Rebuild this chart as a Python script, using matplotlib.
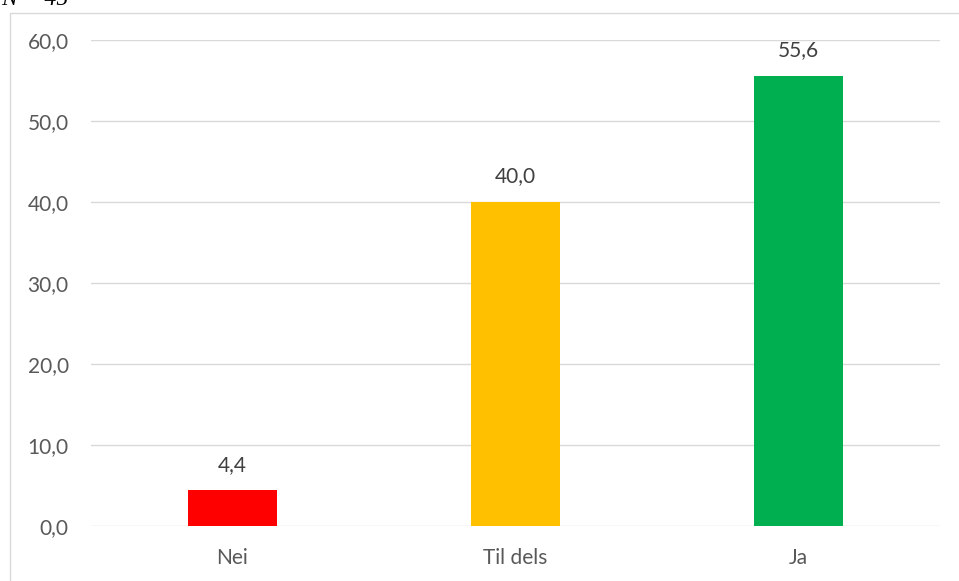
import matplotlib.pyplot as plt
from matplotlib.patches import Rectangle

categories = ["Nei", "Til dels", "Ja"]
values = [4.4, 40.0, 55.6]
colors = ["#FF0000", "#FFC000", "#00B050"]
yticks = [0, 10, 20, 30, 40, 50, 60]

W, H = 959, 581
fig = plt.figure(figsize=(W / 100, H / 100), dpi=100)
plt.rcParams['font.family'] = ['Lato', 'DejaVu Sans']

# plot area in pixel coordinates
left, right, top, bottom = 91, 940, 40, 525.7
ax = fig.add_axes([left / W, (H - bottom) / H, (right - left) / W, (bottom - top) / H])

x = range(len(categories))
bars = ax.bar(x, values, width=0.315, color=colors, zorder=3)
for b, v in zip(bars, values):
    ax.annotate(f"{v:.1f}".replace(".", ","), (b.get_x() + b.get_width() / 2, v),
                xytext=(0, 14), textcoords="offset points", ha="center", va="baseline",
                fontsize=15, color="#404040")

ax.set_xlim(-0.5, 2.5)
ax.set_ylim(0, 60)
ax.set_yticks(yticks)
ax.set_yticklabels([f"{t:.1f}".replace(".", ",") for t in yticks])
ax.set_xticks(list(x))
ax.set_xticklabels(categories)
ax.tick_params(axis="both", length=0, labelsize=15, colors="#595959")
ax.tick_params(axis="y", pad=16)
ax.tick_params(axis="x", pad=16)
ax.grid(axis="y", color="#d9d9d9", linewidth=1.0, zorder=0)
for s in ax.spines.values():
    s.set_visible(False)

# chart border
fig.patches.append(Rectangle((9.5 / W, -0.2), 1.2, (H - 12.5) / H + 0.2,
                             transform=fig.transFigure, fill=False,
                             edgecolor="#d9d9d9", linewidth=1.0))

fig.text(1 / W, 1 - 5 / H, "N = 45", fontsize=17, style="italic",
         family="Liberation Serif", va="baseline", ha="left", color="black")

fig.savefig("out.png", dpi=100)
